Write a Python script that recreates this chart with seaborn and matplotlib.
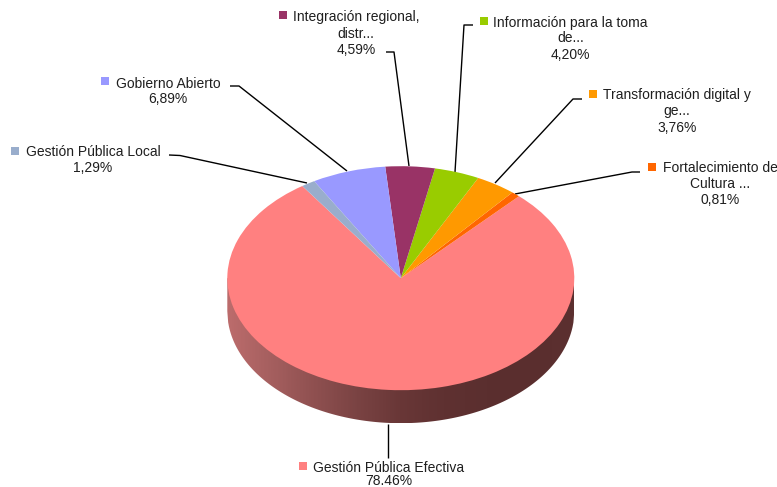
import numpy as np
import matplotlib
matplotlib.use("Agg")
import matplotlib.pyplot as plt
import seaborn as sns
from matplotlib.patches import Rectangle, Polygon
from matplotlib.colors import LinearSegmentedColormap

categories = ["Gestión Pública Efectiva", "Fortalecimiento de Cultura ...",
              "Transformación digital y ge...", "Información para la toma de...",
              "Integración regional, distr...", "Gobierno Abierto", "Gestión Pública Local"]
shares = [78.46, 0.81, 3.76, 4.20, 4.59, 6.89, 1.29]
share_labels = ["78.46%", "0,81%", "3,76%", "4,20%", "4,59%", "6,89%", "1,29%"]
slice_colors = ["#FF8080", "#FF6600", "#FF9900", "#99CC00", "#993366", "#9999FF", "#99ADCC"]

W, H = 777, 487
CX, CY, RX, RY, DEPTH = 400.8, 278.2, 173.5, 112, 33
START = 124.6

sns.set_theme(style="white")
plt.rcParams["font.family"] = ["Liberation Sans", "DejaVu Sans"]
palette = sns.color_palette(slice_colors)

fig = plt.figure(figsize=(W / 100, H / 100), dpi=100, facecolor="white")
bg = fig.add_axes([0, 0, 1, 1], zorder=1)

# side wall of the disc, shaded left to right
wall_cmap = LinearSegmentedColormap.from_list(
    "wall", ["#BC6C6C", "#A55F5F", "#8F5050", "#7A4343", "#693737", "#5F3131", "#5B2F2F", "#5A2E2E", "#5C3030"])
xs = np.linspace(CX - RX, CX + RX, 400)
lower = CY + RY * np.sqrt(np.clip(1 - ((xs - CX) / RX) ** 2, 0, 1)) + DEPTH
wall_outline = np.vstack([np.column_stack([xs, lower]),
                          [[CX + RX, CY], [CX - RX, CY]]])
clip = Polygon(wall_outline, closed=True, transform=bg.transData, fc="none", lw=0)
bg.add_patch(clip)
img = bg.imshow(np.linspace(0, 1, 347)[None, :], cmap=wall_cmap, aspect="auto",
                extent=(CX - RX, CX + RX, CY + RY + DEPTH, CY), interpolation="bilinear")
img.set_clip_path(clip)
bg.set_xlim(0, W)
bg.set_ylim(H, 0)
bg.axis("off")

# leader lines
leaders = [
    ([388, 388], [424, 458]),
    ([515, 632, 640], [194, 172, 172]),
    ([495, 573, 582], [183, 99, 99]),
    ([455, 464, 473], [172, 25, 25]),
    ([409, 394, 386], [166, 52, 52]),
    ([347, 239, 230], [171, 86, 86]),
    ([307, 180, 169], [183, 155.5, 155]),
]
for lx, ly in leaders:
    bg.plot(lx, ly, color="black", lw=1.0, solid_capstyle="butt")

# pie top face: unit circle stretched to the ellipse
pie_ax = fig.add_axes([(CX - RX) / W, (H - CY - RY) / H, 2 * RX / W, 2 * RY / H], zorder=2)
pie_ax.pie(shares, colors=palette, startangle=START, counterclock=True, radius=1,
           wedgeprops=dict(lw=0))
pie_ax.set_aspect("auto")
pie_ax.set_xlim(-1, 1)
pie_ax.set_ylim(-1, 1)
pie_ax.axis("off")

# labels
fg = fig.add_axes([0, 0, 1, 1], zorder=3)
fg.set_xlim(0, W)
fg.set_ylim(H, 0)
fg.axis("off")
labels = [
    (388.5, [("Gestión Pública Efectiva", 467.5), (share_labels[0], 481)], (299, 462), 0),
    (720, [("Fortalecimiento de", 168.5), ("Cultura ...", 184.5), (share_labels[1], 200.5)], (648, 163), 1),
    (677, [("Transformación digital y", 95.5), ("ge...", 111.5), (share_labels[2], 127.5)], (589, 90), 2),
    (570.5, [("Información para la toma", 22.5), ("de...", 38.5), (share_labels[3], 55)], (480, 17), 3),
    (356, [("Integración regional,", 17.5), ("distr...", 33.5), (share_labels[4], 50)], (279, 11), 4),
    (168, [("Gobierno Abierto", 83.5), (share_labels[5], 99)], (101, 77), 5),
    (93, [("Gestión Pública Local", 151.5), (share_labels[6], 168)], (11, 147), 6),
]
for cx, lines, key, idx in labels:
    for txt, y in lines:
        fg.text(cx, y, txt, ha="center", va="center", fontsize=10, color="#1f1f1f")
    fg.add_patch(Rectangle(key, 8, 8, color=palette[idx], lw=0))

fig.savefig("out.png", dpi=100, facecolor="white")
